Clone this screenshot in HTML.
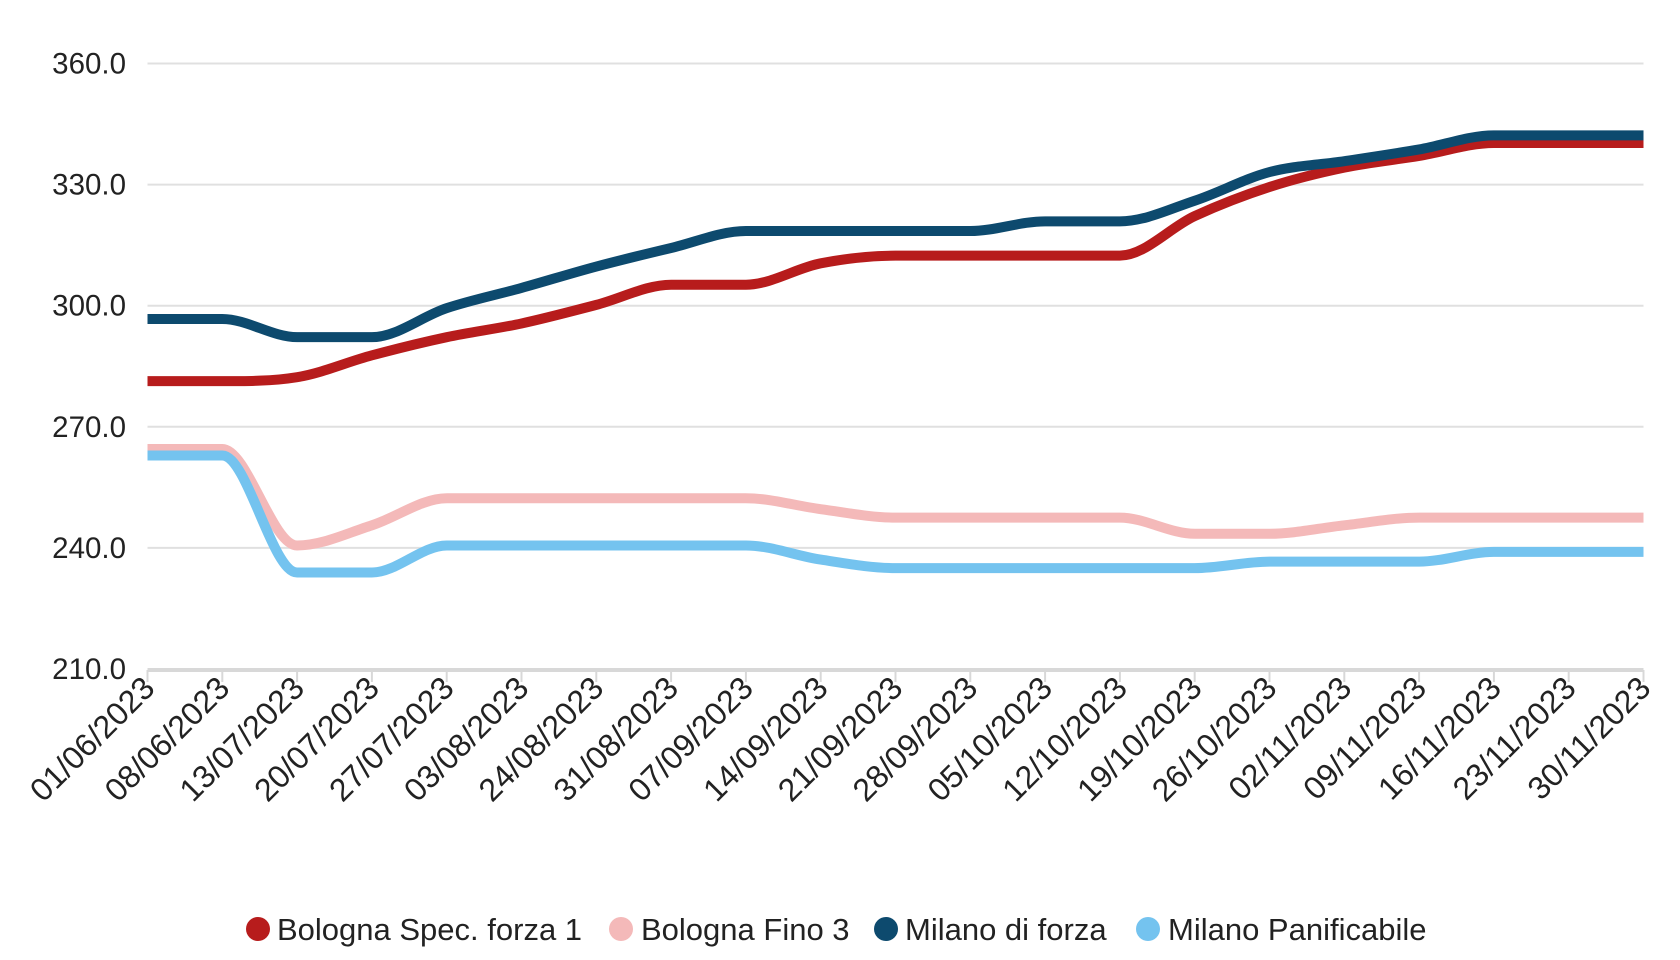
<!DOCTYPE html>
<html><head><meta charset="utf-8"><style>
html,body{margin:0;padding:0;background:#fff;}
svg{display:block;font-family:"Liberation Sans",Arial,sans-serif;}
</style></head><body>
<svg id="s" width="1680" height="960" viewBox="0 0 1680 960" xmlns="http://www.w3.org/2000/svg">
<g id="grid" stroke="#e0e0e0" stroke-width="2"></g>
<g id="ylab" font-size="29.5" fill="#222" text-anchor="end"></g>
<g id="lines" fill="none" stroke-width="10" stroke-linejoin="round" stroke-linecap="butt"></g>
<line x1="147.5" y1="670" x2="1643.5" y2="670" stroke="#d8d8d8" stroke-width="4"/>
<g id="ticks" stroke="#d8d8d8" stroke-width="2"></g>
<g id="xlab" font-size="32" fill="#222" text-anchor="end"></g>
<g font-size="31" fill="#222">
<circle cx="258" cy="929" r="12" fill="#b71c1c"/><text x="277" y="940">Bologna Spec. forza 1</text>
<circle cx="621" cy="929" r="12" fill="#f4b9b9"/><text x="641" y="940">Bologna Fino 3</text>
<circle cx="886" cy="929" r="12" fill="#0d4a6e"/><text x="905" y="940">Milano di forza</text>
<circle cx="1148" cy="929" r="12" fill="#74c3ef"/><text x="1168" y="940">Milano Panificabile</text>
</g>
</svg>
<script>
var NS="http://www.w3.org/2000/svg";
function el(t,a,p,txt){var e=document.createElementNS(NS,t);for(var k in a)e.setAttribute(k,a[k]);if(txt)e.textContent=txt;document.getElementById(p).appendChild(e);return e;}
function Y(v){return 669-(v-210)*121.1/30;}
var H=74.8;
function X(i){return 147.5+i*H;}
for(var v=210;v<=360;v+=30){ if(v>210) el("line",{x1:147.5,x2:1643.5,y1:Y(v),y2:Y(v)},"grid"); el("text",{x:126,y:Y(v)+10},"ylab",v.toFixed(1));}
var d=["01/06/2023","08/06/2023","13/07/2023","20/07/2023","27/07/2023","03/08/2023","24/08/2023","31/08/2023","07/09/2023","14/09/2023","21/09/2023","28/09/2023","05/10/2023","12/10/2023","19/10/2023","26/10/2023","02/11/2023","09/11/2023","16/11/2023","23/11/2023","30/11/2023"];
d.forEach(function(s,i){var x=X(i);el("line",{x1:x,x2:x,y1:670,y2:682},"ticks");el("text",{x:0,y:0,transform:"translate("+(x+9)+",690) rotate(-45)"},"xlab",s);});
var S=[
["#f4b9b9",[264.5,264.5,240.6,245.6,252.3,252.3,252.3,252.3,252.3,249.6,247.5,247.5,247.5,247.5,243.5,243.5,245.6,247.5,247.5,247.5,247.5]],
["#74c3ef",[262.9,262.9,233.9,233.9,240.6,240.6,240.6,240.6,240.6,237.1,235,235,235,235,235,236.6,236.6,236.6,239,239,239]],
["#b71c1c",[281.3,281.3,282.3,287.7,292.2,295.6,300.2,305.2,305.2,310.5,312.4,312.4,312.4,312.4,322.2,329.4,334.2,337.1,340.3,340.3,340.3]],
["#0d4a6e",[296.7,296.7,292.2,292.2,299.4,304.4,309.7,314.3,318.5,318.5,318.5,318.5,320.9,320.9,326,333.1,335.8,338.7,342.2,342.2,342.2]]];
S.forEach(function(s){
 var ys=s[1].map(Y),n=ys.length,h=H,dl=[],m=[];
 for(var i=0;i<n-1;i++)dl.push((ys[i+1]-ys[i])/h);
 m[0]=dl[0];m[n-1]=dl[n-2];
 for(var i=1;i<n-1;i++){m[i]=(dl[i-1]*dl[i]<=0)?0:(dl[i-1]+dl[i])/2;}
 for(var i=0;i<n-1;i++){if(dl[i]==0){m[i]=0;m[i+1]=0;continue;}var a=m[i]/dl[i],b=m[i+1]/dl[i],t=a*a+b*b;if(t>9){var k=3/Math.sqrt(t);m[i]=k*a*dl[i];m[i+1]=k*b*dl[i];}}
 var p="M"+X(0)+","+ys[0];
 for(var i=0;i<n-1;i++){p+=" C"+(X(i)+h/3)+","+(ys[i]+m[i]*h/3)+" "+(X(i+1)-h/3)+","+(ys[i+1]-m[i+1]*h/3)+" "+X(i+1)+","+ys[i+1];}
 el("path",{d:p,stroke:s[0]},"lines");
});
</script>
</body></html>
